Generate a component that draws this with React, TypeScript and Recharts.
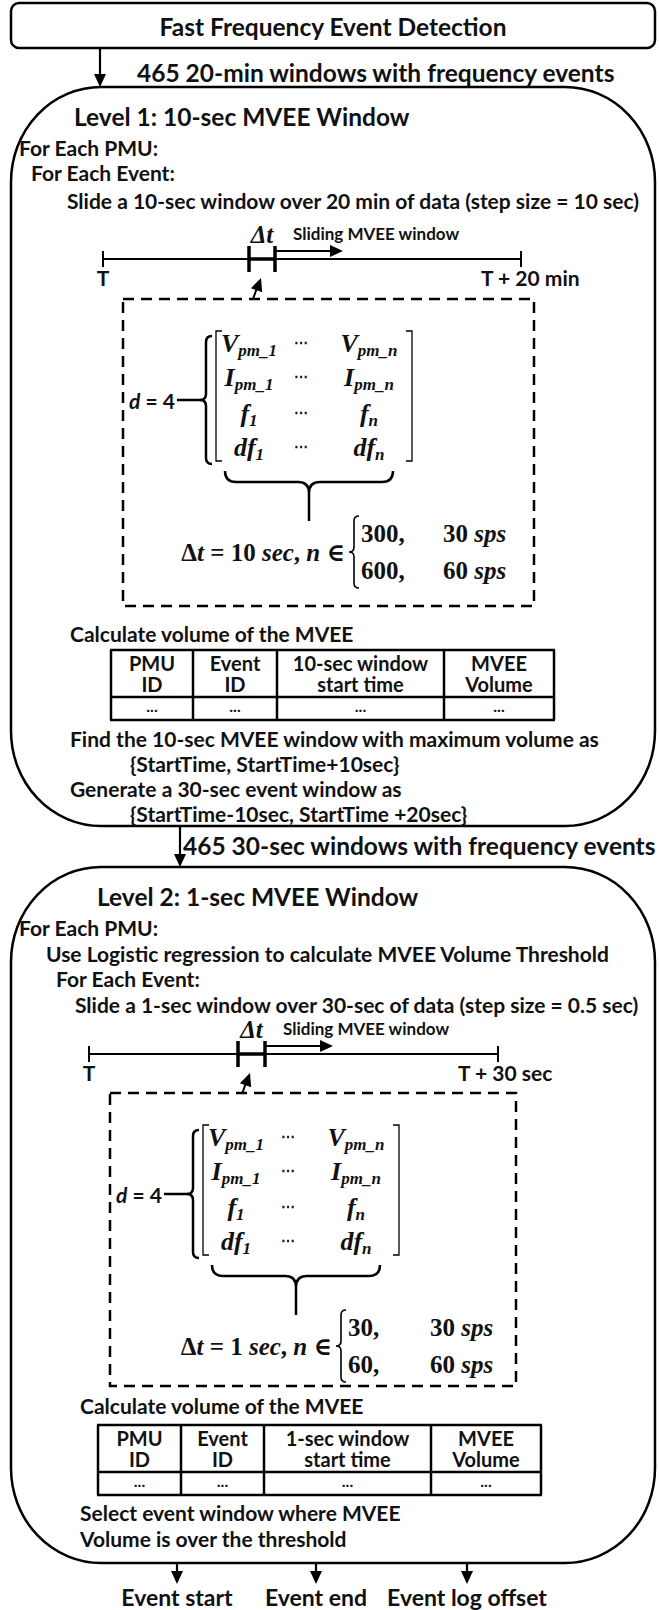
import React from 'react';
import { ScatterChart, Scatter, XAxis, YAxis, ReferenceLine, ReferenceArea } from 'recharts';

const W = 659;
const H = 1610;
const SANS = 'Lato, "Open Sans", "DejaVu Sans", sans-serif';
const SERIF = '"Liberation Serif", "DejaVu Serif", serif';
const INK = '#111';

// ---- content ----
const headerTitle = 'Fast Frequency Event Detection';
const handoffLabels = ['465 20-min windows with frequency events', '465 30-sec windows with frequency events'];
const levelTitles = ['Level 1: 10-sec MVEE Window', 'Level 2: 1-sec MVEE Window'];
const level1Steps = ['For Each PMU:', 'For Each Event:', 'Slide a 10-sec window over 20 min of data (step size = 10 sec)'];
const level2Steps = [
  'For Each PMU:',
  'Use Logistic regression to calculate MVEE Volume Threshold',
  'For Each Event:',
  'Slide a 1-sec window over 30-sec of data (step size = 0.5 sec)',
];
const timelineStart = 'T';
const timelineEnds = ['T + 20 min', 'T + 30 sec'];
const slidingLabel = 'Sliding MVEE window';
const matrixSymbols = ['V', 'I', 'f', 'df'];
const matrixSubs = [['pm_1', 'pm_n'], ['pm_1', 'pm_n'], ['1', 'n'], ['1', 'n']];
const windowLengths = ['10', '1'];
const sampleCounts = [['300', '600'], ['30', '60']];
const sampleRates = ['30', '60'];
const calcLabel = 'Calculate volume of the MVEE';
const tableCols1 = [['PMU', 'ID'], ['Event', 'ID'], ['10-sec window', 'start time'], ['MVEE', 'Volume']];
const tableCols2 = [['PMU', 'ID'], ['Event', 'ID'], ['1-sec window', 'start time'], ['MVEE', 'Volume']];
const level1Results = [
  'Find the 10-sec MVEE window with maximum volume as',
  '{StartTime, StartTime+10sec}',
  'Generate a 30-sec event window as',
  '{StartTime-10sec, StartTime +20sec}',
];
const level2Results = ['Select event window where MVEE', 'Volume is over the threshold'];
const outputs = ['Event start', 'Event end', 'Event log offset'];

// ---- layout ----
type Txt = { x: number; y: number; text: string; kind: string; anchor: string };
type Seg = { x1: number; y1: number; x2: number; y2: number; w: number };
type Head = { x: number; y: number; angle: number };

const texts: Txt[] = [];
const segs: Seg[] = [];
const heads: Head[] = [];
const put = (x: number, y: number, text: string, kind = 'body', anchor = 'start') =>
  texts.push({ x, y, text, kind, anchor });
const line = (x1: number, y1: number, x2: number, y2: number, w = 2) => segs.push({ x1, y1, x2, y2, w });
const downArrow = (x: number, y1: number, y2: number) => {
  line(x, y1, x, y2 - 10, 2.2);
  heads.push({ x, y: y2, angle: 0 });
};

put(333, 26, headerTitle, 'big', 'middle');
put(137, 72, handoffLabels[0], 'big');
put(183, 845, handoffLabels[1], 'big');
put(74, 116, levelTitles[0], 'big');
put(97, 896, levelTitles[1], 'big');

const steps1X = [19, 31, 67];
const steps1Y = [147, 172, 200];
level1Steps.forEach((s, i) => put(steps1X[i], steps1Y[i], s));
const steps2X = [19, 46, 56, 75];
const steps2Y = [927, 953, 978, 1004];
level2Steps.forEach((s, i) => put(steps2X[i], steps2Y[i], s));

put(70, 633, calcLabel);
put(80, 1405, calcLabel);
const res1X = [70, 130, 70, 130];
level1Results.forEach((s, i) => put(res1X[i], 738 + i * 25, s));
level2Results.forEach((s, i) => put(80, 1512 + i * 26, s));

const outputX = [177, 316, 467];
outputs.forEach((s, i) => {
  put(outputX[i], 1597, s, 'out', 'middle');
  downArrow(outputX[i], 1563, 1584);
});
downArrow(100, 48, 87);
downArrow(180, 826, 867);

// timelines
const timelines = [
  { x0: 103, x1: 521, y: 259, w0: 249, w1: 275, end: timelineEnds[0] },
  { x0: 89, x1: 498, y: 1054, w0: 238, w1: 265, end: timelineEnds[1] },
];
timelines.forEach((t) => {
  line(t.x0, t.y, t.x1, t.y, 2);
  line(t.x0, t.y - 8, t.x0, t.y + 8, 2);
  line(t.x1, t.y - 8, t.x1, t.y + 8, 2);
  line(t.w0, t.y - 13, t.w0, t.y + 13, 3.5);
  line(t.w1, t.y - 13, t.w1, t.y + 13, 3.5);
  line(t.w0, t.y, t.w1, t.y, 3.5);
  line(t.w1, t.y - 8, t.w1 + 58, t.y - 8, 2);
  heads.push({ x: t.w1 + 68, y: t.y - 8, angle: -90 });
  line(t.w0 + 4, t.y + 40, t.w0 + 9, t.y + 26, 2);
  heads.push({ x: t.w0 + 12, y: t.y + 19, angle: 200 });
  put((t.w0 + t.w1) / 2, t.y - 25, '\u0394t', 'math', 'middle');
  put(t.w1 + 18, t.y - 26, slidingLabel, 'small');
  put(t.x0, t.y + 18, timelineStart, 'body', 'middle');
  put(t.x1 - 40, t.y + 18, t.end);
});

// tables
const tables = [
  { cols: [111, 193, 277, 444, 554], top: 650, mid: 697, bottom: 720, heads: tableCols1 },
  { cols: [98, 181, 264, 431, 541], top: 1425, mid: 1472, bottom: 1495, heads: tableCols2 },
];
tables.forEach((t) => {
  [t.top, t.mid, t.bottom].forEach((y) => line(t.cols[0] - 1, y, t.cols[4] + 1, y, 2.5));
  t.cols.forEach((x) => line(x, t.top, x, t.bottom, 2.5));
  t.heads.forEach((h, i) => {
    const cx = (t.cols[i] + t.cols[i + 1]) / 2;
    put(cx, t.top + 13, h[0], 'cell', 'middle');
    put(cx, t.top + 34, h[1], 'cell', 'middle');
    put(cx, (t.mid + t.bottom) / 2 - 3, '...', 'dots', 'middle');
  });
});

// dashed matrix panels (anchor = top-left of dashed box)
const panels = [
  { x: 123, y: 299, w: 411, h: 307, level: 0 },
  { x: 110, y: 1093, w: 406, h: 293, level: 1 },
];

const SIZE: Record<string, number> = { big: 24.5, body: 21, small: 17, cell: 20, math: 25, dots: 16, out: 23 };

const TextShape = (p: any) => {
  const d = p.payload as Txt;
  const isMath = d.kind === 'math';
  return (
    <text
      x={p.cx}
      y={p.cy}
      dominantBaseline="central"
      textAnchor={d.anchor as any}
      fontFamily={isMath ? SERIF : SANS}
      fontStyle={isMath ? 'italic' : 'normal'}
      fontWeight={700}
      fontSize={SIZE[d.kind]}
      fill={INK}
    >
      {d.text}
    </text>
  );
};

const HeadShape = (p: any) => (
  <path d="M0,0 L-6,-13 L6,-13 Z" transform={`translate(${p.cx},${p.cy}) rotate(${p.payload.angle})`} fill="#000" />
);

const braceLeft = (x: number, y: number, w: number, h: number) => {
  const m = y + h / 2;
  const xm = x + w / 2;
  const r = w / 2;
  return `M${x + w},${y} Q${xm},${y} ${xm},${y + r} L${xm},${m - r} Q${xm},${m} ${x},${m} Q${xm},${m} ${xm},${m + r} L${xm},${y + h - r} Q${xm},${y + h} ${x + w},${y + h}`;
};
const braceDown = (x: number, y: number, w: number, h: number) => {
  const m = x + w / 2;
  const ym = y + h / 2;
  const r = h / 2;
  return `M${x},${y} Q${x},${ym} ${x + r},${ym} L${m - r},${ym} Q${m},${ym} ${m},${y + h} Q${m},${ym} ${m + r},${ym} L${x + w - r},${ym} Q${x + w},${ym} ${x + w},${y}`;
};

const MatrixShape = (p: any) => {
  const lv = p.payload.level as number;
  const X = (v: number) => p.cx + v;
  const Y = (v: number) => p.cy + v;
  const rowsY = [44, 78, 114, 148];
  const colX = [126, 178, 246];
  const mathProps = { fontFamily: SERIF, fontWeight: 700, fill: INK, dominantBaseline: 'central' as any };
  const cell = (x: number, y: number, sym: string, sub: string, key: string) => (
    <text key={key} x={x} y={y} textAnchor="middle" fontSize={26} fontStyle="italic" {...mathProps}>
      {sym}
      <tspan fontSize={17} dy={7}>
        {sub}
      </tspan>
    </text>
  );
  return (
    <g>
      <text x={X(6)} y={Y(101)} fontFamily={SANS} fontWeight={700} fontSize={21} fill={INK} dominantBaseline="central">
        <tspan fontStyle="italic">d</tspan> = 4
      </text>
      <line x1={X(54)} y1={Y(101)} x2={X(78)} y2={Y(101)} stroke="#000" strokeWidth={2.5} />
      <path d={braceLeft(X(77), Y(37), 12, 128)} fill="none" stroke="#000" strokeWidth={2.5} />
      <path d={`M${X(99)},${Y(32)} L${X(93)},${Y(32)} L${X(93)},${Y(162)} L${X(99)},${Y(162)}`} fill="none" stroke="#000" strokeWidth={1.3} />
      <path d={`M${X(283)},${Y(32)} L${X(289)},${Y(32)} L${X(289)},${Y(162)} L${X(283)},${Y(162)}`} fill="none" stroke="#000" strokeWidth={1.3} />
      {matrixSymbols.map((s, i) => (
        <g key={s}>
          {cell(X(colX[0]), Y(rowsY[i]), s, matrixSubs[i][0], 'a')}
          <text x={X(colX[1])} y={Y(rowsY[i])} textAnchor="middle" fontSize={14} {...mathProps}>
            {'\u22EF'}
          </text>
          {cell(X(colX[2]), Y(rowsY[i]), s, matrixSubs[i][1], 'b')}
        </g>
      ))}
      <path d={braceDown(X(102), Y(172), 168, 22)} fill="none" stroke="#000" strokeWidth={2.5} />
      <line x1={X(186)} y1={Y(194)} x2={X(186)} y2={Y(222)} stroke="#000" strokeWidth={2.5} />
      <text x={X(222)} y={Y(253)} textAnchor="end" fontSize={25} {...mathProps}>
        {'\u0394'}
        <tspan fontStyle="italic">t</tspan>
        {' = ' + windowLengths[lv] + ' '}
        <tspan fontStyle="italic">sec</tspan>
        {', '}
        <tspan fontStyle="italic">n</tspan>
        {' \u2208'}
      </text>
      <path d={braceLeft(X(226), Y(217), 10, 72)} fill="none" stroke="#000" strokeWidth={1.6} />
      {sampleCounts[lv].map((c, i) => (
        <g key={c}>
          <text x={X(238)} y={Y(i === 0 ? 234 : 271)} fontSize={25} {...mathProps}>
            {c + ','}
          </text>
          <text x={X(320)} y={Y(i === 0 ? 234 : 271)} fontSize={25} {...mathProps}>
            {sampleRates[i] + ' '}
            <tspan fontStyle="italic">sps</tspan>
          </text>
        </g>
      ))}
    </g>
  );
};

const headerBox = (p: any) => (
  <rect x={p.x} y={p.y} width={p.width} height={p.height} rx={8} fill="none" stroke="#000" strokeWidth={2.5} />
);
const dashedBox = (p: any) => (
  <rect x={p.x} y={p.y} width={p.width} height={p.height} fill="none" stroke="#000" strokeWidth={2.5} strokeDasharray="11 7" />
);
const levelBox = (p: any) => {
  const { x, y, width: w, height: h } = p;
  const tx = 90, ty = 95, bx = 90, by = 95;
  const d = `M${x + tx},${y} L${x + w - tx},${y} A${tx},${ty} 0 0 1 ${x + w},${y + ty} L${x + w},${y + h - by} A${bx},${by} 0 0 1 ${x + w - bx},${y + h} L${x + bx},${y + h} A${bx},${by} 0 0 1 ${x},${y + h - by} L${x},${y + ty} A${tx},${ty} 0 0 1 ${x + tx},${y} Z`;
  return <path d={d} fill="none" stroke="#000" strokeWidth={2.5} />;
};

export default function App() {
  return (
    <div style={{ position: 'absolute', left: 0, top: 0, width: W, height: H, background: '#fff' }}>
      <ScatterChart width={W} height={H} margin={{ top: 0, right: 0, bottom: 0, left: 0 }}>
        <XAxis dataKey="x" type="number" domain={[0, W]} hide allowDataOverflow />
        <YAxis dataKey="y" type="number" domain={[0, H]} reversed hide allowDataOverflow />
        <ReferenceArea x1={11} x2={655} y1={3} y2={48} shape={headerBox} ifOverflow="visible" />
        <ReferenceArea x1={11} x2={655} y1={87} y2={826} shape={levelBox} ifOverflow="visible" />
        <ReferenceArea x1={11} x2={655} y1={867} y2={1563} shape={levelBox} ifOverflow="visible" />
        {panels.map((pn, i) => (
          <ReferenceArea key={'pn' + i} x1={pn.x} x2={pn.x + pn.w} y1={pn.y} y2={pn.y + pn.h} shape={dashedBox} ifOverflow="visible" />
        ))}
        {segs.map((s, i) => (
          <ReferenceLine
            key={'s' + i}
            segment={[{ x: s.x1, y: s.y1 }, { x: s.x2, y: s.y2 }]}
            stroke="#000"
            strokeWidth={s.w}
            ifOverflow="visible"
          />
        ))}
        <Scatter data={panels} shape={MatrixShape} isAnimationActive={false} />
        <Scatter data={heads} shape={HeadShape} isAnimationActive={false} />
        <Scatter data={texts} shape={TextShape} isAnimationActive={false} />
      </ScatterChart>
    </div>
  );
}
